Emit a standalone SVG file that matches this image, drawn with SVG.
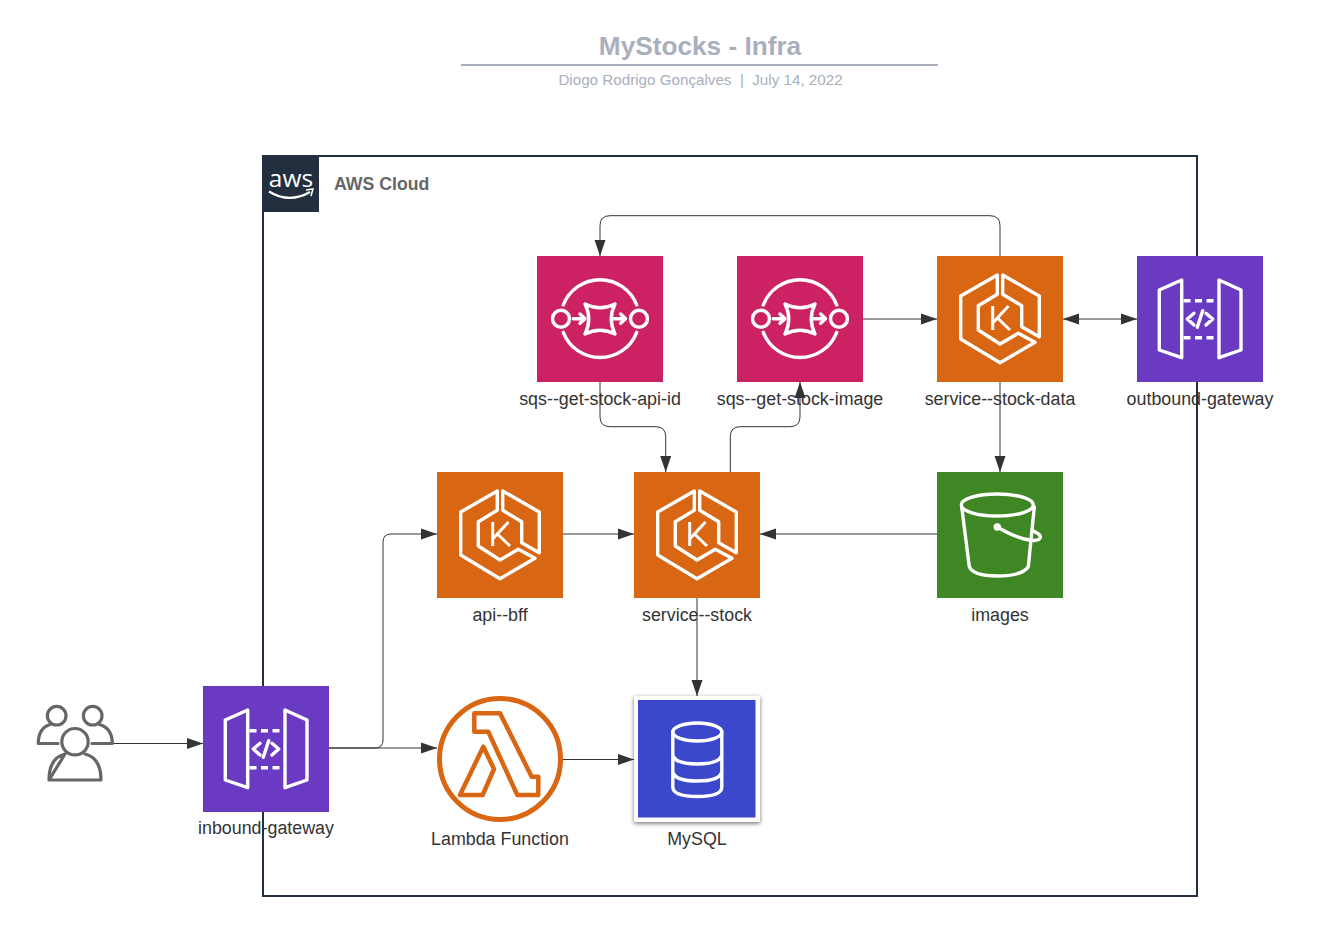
<svg xmlns="http://www.w3.org/2000/svg" xmlns:xlink="http://www.w3.org/1999/xlink" width="1318" height="935" viewBox="0 0 1318 935">
<style>
text{font-family:"Liberation Sans",Arial,sans-serif}
.lbl{font-size:17.85px;fill:#333;text-anchor:middle}
.ic{fill:none;stroke:#fff;stroke-width:3.400;stroke-linejoin:round;stroke-linecap:round}
.con{fill:none;stroke:#333;stroke-width:1}
.arr{marker-end:url(#ah)}
</style>
<defs>
<marker id="ah" markerUnits="userSpaceOnUse" markerWidth="16" markerHeight="12" refX="16" refY="6" orient="auto"><path d="M0,.5L16,6L0,11.5Z" fill="#333"/></marker>
<marker id="ahs" markerUnits="userSpaceOnUse" markerWidth="16" markerHeight="12" refX="0" refY="6" orient="auto"><path d="M16,.5L0,6L16,11.5Z" fill="#333"/></marker>
<filter id="sh" x="-10%" y="-10%" width="120%" height="120%"><feDropShadow dx="0" dy="1.500" stdDeviation="2" flood-color="#000" flood-opacity=".55"/></filter>
<g id="eks">
<rect width="126" height="126" fill="#D86613"/>
<path class="ic" d="M60.300,19L23.700,40V83L63,106.700L98,86.300L81.300,77.300L63,88L41.300,74V49.700L60.300,38.300Z"/>
<path class="ic" d="M65.700,19L102.300,40V80.700L84.700,70.700V49.700L65.700,38.300Z"/>
<path fill="none" stroke="#fff" stroke-width="3" d="M55.700,50V74M71.500,50L55.700,67M60.500,62L73,74"/>
</g>
<g id="sqs">
<rect width="126" height="126" fill="#CC2264"/>
<g class="ic">
<circle cx="24" cy="62.700" r="8.500"/><circle cx="102" cy="62.700" r="8.500"/>
<path d="M26.300,49A39.300,39.300 0 0 1 99.700,49M26.300,76.300A39.300,39.300 0 0 0 99.700,76.300"/>
<path d="M48,48Q63,55.500 78,48Q70.500,63 78,78Q63,70.500 48,78Q55.500,63 48,48Z"/>
<path d="M36.300,62.700H47M43,58L48,62.700L43,67.300M76.300,62.700H88M83.700,58L88.500,62.700L83.700,67.300"/>
</g>
</g>
<g id="apigw">
<rect width="126" height="126" fill="#6A3AC3"/>
<g class="ic">
<path d="M44.700,24L22.300,34V94L44.700,101.700ZM82,24L104,34V94L82,101.700Z"/>
<path stroke-linecap="butt" stroke-dasharray="7 4.500" d="M46.500,44.700H81M46.500,81.700H81"/>
<path d="M57,57.300L50.300,63L57,69M69,57.300L75.700,63L69,69M65.700,54.700L60.300,71.300"/>
</g>
</g>
</defs>
<rect width="1318" height="935" fill="#fff"/>
<g id="title">
<text x="700" y="55" text-anchor="middle" font-size="26.200" font-weight="700" fill="#A9AFBC">MyStocks - Infra</text>
<line x1="461" y1="65" x2="938" y2="65" stroke="#A9AFBC" stroke-width="2"/>
<text x="700.500" y="85" text-anchor="middle" font-size="15.200" fill="#A9AFBC" xml:space="preserve">Diogo Rodrigo Gonçalves  |  July 14, 2022</text>
</g>
<g id="aws-cloud">
<rect x="263" y="156" width="934" height="740" fill="none" stroke="#232F3E" stroke-width="2"/>
<rect x="263" y="156" width="56" height="56" fill="#232F3E"/>
<text x="291" y="187" text-anchor="middle" font-size="24.500" fill="#fff" style="font-family:'Open Sans',sans-serif">aws</text>
<path d="M269,191.500Q289,204 310,192" fill="none" stroke="#fff" stroke-width="2.200"/>
<path d="M306,190L313,189L311,196" fill="none" stroke="#fff" stroke-width="1.500"/>
<text x="334" y="190" font-size="17.700" font-weight="700" fill="#666">AWS Cloud</text>
</g>
<g id="connectors">
<path class="con arr" d="M113,743.500H203"/>
<path class="con arr" d="M329,748H375Q383,748 383,740V542Q383,534 391,534H437"/>
<path class="con arr" d="M329,748H437"/>
<path class="con arr" d="M563,534H634"/>
<path class="con arr" d="M937,534H760"/>
<path class="con arr" d="M697,598V696"/>
<path class="con arr" d="M563,759.500H634"/>
<path class="con arr" d="M600,382V416.700Q600,426.700 610,426.700H655.700Q665.700,426.700 665.700,436.700V472"/>
<path class="con arr" d="M730.300,472V436.700Q730.300,426.700 740.300,426.700H790Q800,426.700 800,416.700V382"/>
<path class="con arr" d="M863,319H937"/>
<path class="con arr" d="M1000,256V225.700Q1000,215.700 990,215.700H610Q600,215.700 600,225.700V256"/>
<path class="con arr" marker-start="url(#ahs)" d="M1063,319H1137"/>
<path class="con arr" d="M1000,382V472"/>
</g>
<g id="users" fill="none" stroke="#666" stroke-width="3.200" stroke-linejoin="round" stroke-linecap="round">
<circle cx="56.700" cy="715.700" r="9.300"/><circle cx="92.700" cy="715.700" r="9.300"/><circle cx="75" cy="741.700" r="13.200"/>
<path d="M49,780H101C101,768 97,757 85,754M65,754C53,757 49,768 49,780Z"/>
<path d="M58,743.500H38.300C38.300,733 42,727 50,724.500M99.500,724.500C108,727 112.300,733 112.300,743.500H92"/>
</g>
<g id="inbound-gateway"><use href="#apigw" x="203" y="686"/><text class="lbl" x="266" y="834">inbound-gateway</text></g>
<g id="api-bff"><use href="#eks" x="437" y="472"/><text class="lbl" x="500" y="621">api--bff</text></g>
<g id="service-stock"><use href="#eks" x="634" y="472"/><text class="lbl" x="697" y="621">service--stock</text></g>
<g id="sqs-get-stock-api-id"><use href="#sqs" x="537" y="256"/><text class="lbl" x="600" y="405">sqs--get-stock-api-id</text></g>
<g id="sqs-get-stock-image"><use href="#sqs" x="737" y="256"/><text class="lbl" x="800" y="405">sqs--get-stock-image</text></g>
<g id="service-stock-data"><use href="#eks" x="937" y="256"/><text class="lbl" x="1000" y="405">service--stock-data</text></g>
<g id="outbound-gateway"><use href="#apigw" x="1137" y="256"/><text class="lbl" x="1200" y="405">outbound-gateway</text></g>
<g id="images">
<rect x="937" y="472" width="126" height="126" fill="#3F8624"/>
<g class="ic" transform="translate(937 472)">
<ellipse cx="60.300" cy="33" rx="36" ry="11"/>
<path d="M24.700,35L32.300,94.700Q36,104 60.300,104Q85,104 91.300,94.700L97.300,35"/>
<path d="M60.300,55C72,62 85,67 93,68C104,70 106,64 100,61L95.500,58.500"/>
<circle cx="60.300" cy="55" r="2" fill="#fff"/>
</g>
<text class="lbl" x="1000" y="621">images</text>
</g>
<g id="lambda-function">
<circle cx="500" cy="759" r="60.500" fill="#fff" stroke="#D86613" stroke-width="5"/>
<g transform="translate(437 696)" fill="none" stroke="#D86613" stroke-width="4.500" stroke-linejoin="round">
<path d="M37.300,17.300H63L94.700,80.700H101.300V99H80.300L51.300,35.700H37.300Z"/>
<path d="M46.300,50.700L57,73L45.700,99H23Z"/>
</g>
<text class="lbl" x="500" y="845">Lambda Function</text>
</g>
<g id="mysql">
<rect x="634" y="696" width="126" height="126" fill="#fff" filter="url(#sh)"/>
<rect x="638" y="700" width="117.500" height="117.500" fill="#3B48CC"/>
<g class="ic">
<ellipse cx="697.300" cy="732" rx="24.500" ry="9"/>
<path d="M672.800,732V787Q673,796.500 697.300,796.500Q721.800,796.500 721.800,787V732M672.800,755Q675,764 697.300,764Q719.500,764 721.800,755M672.800,772Q675,781 697.300,781Q719.500,781 721.800,772"/>
</g>
<text class="lbl" x="697" y="845">MySQL</text>
</g>
</svg>
